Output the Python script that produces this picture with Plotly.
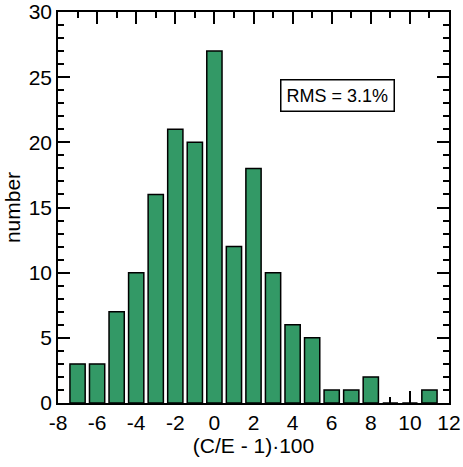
import plotly.graph_objects as go

bin_centers = [-7, -6, -5, -4, -3, -2, -1, 0, 1, 2, 3, 4, 5, 6, 7, 8, 9, 10, 11]
counts = [3, 3, 7, 10, 16, 21, 20, 27, 12, 18, 10, 6, 5, 1, 1, 2, 0, 0, 1]
x_ticks = [-8, -6, -4, -2, 0, 2, 4, 6, 8, 10, 12]
y_ticks = [0, 5, 10, 15, 20, 25, 30]

font = "Liberation Sans, Arial, sans-serif"

fig = go.Figure()
fig.add_trace(go.Bar(
    x=bin_centers, y=counts, width=0.78,
    marker=dict(color="#339966", line=dict(color="black", width=1.5)),
))

axis_common = dict(
    showline=True, linecolor="black", linewidth=1.5, mirror="allticks",
    ticks="inside", tickcolor="black", tickwidth=1.5, ticklen=12,
    showgrid=False, zeroline=False, layer="below traces", automargin=False,
    tickfont=dict(family=font, size=21, color="black"),
)

fig.update_layout(
    width=463, height=467,
    margin=dict(l=58, r=14, t=12, b=64),
    paper_bgcolor="white", plot_bgcolor="white",
    showlegend=False,
    font=dict(family=font, size=21, color="black"),
    xaxis=dict(
        range=[-8, 12], tickvals=x_ticks, ticktext=[str(v) for v in x_ticks],
        title=dict(text="(C/E - 1)·100", font=dict(family=font, size=21), standoff=4),
        minor=dict(ticks="inside", ticklen=6, dtick=1, tick0=0, tickcolor="black", tickwidth=1.5),
        **axis_common,
    ),
    yaxis=dict(
        range=[0, 30], tickvals=y_ticks, ticktext=[str(v) for v in y_ticks],
        title=dict(text="number", font=dict(family=font, size=21), standoff=2),
        minor=dict(ticks="inside", ticklen=6, dtick=1, tick0=0, tickcolor="black", tickwidth=1.5),
        **axis_common,
    ),
    annotations=[dict(
        x=6.32, y=23.6, xref="x", yref="y", text="RMS = 3.1%", showarrow=False,
        font=dict(family=font, size=18, color="black"),
        bordercolor="black", borderwidth=1.5, borderpad=5, bgcolor="white",
    )],
)

fig.write_html("out.html")
